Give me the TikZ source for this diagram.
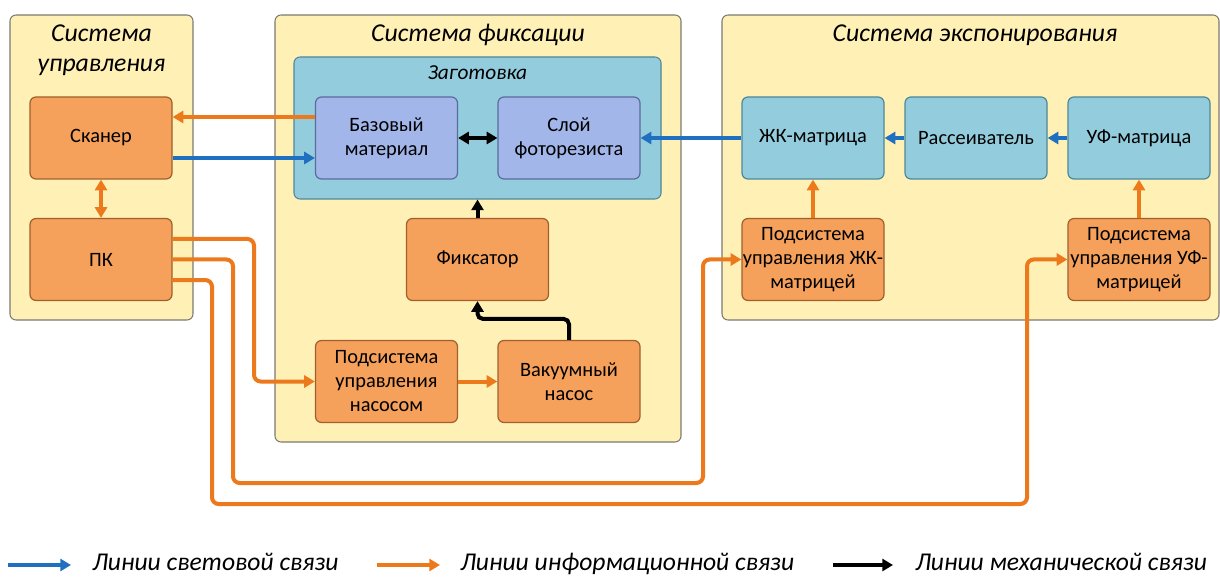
\documentclass[tikz,border=0pt]{standalone}
\usepackage{fontspec}
\setmainfont{Carlito}
\usetikzlibrary{arrows.meta,calc}
\definecolor{panelfill}{HTML}{FFF0B5}
\definecolor{panelline}{HTML}{7A7A70}
\definecolor{orfill}{HTML}{F5A05B}
\definecolor{orline}{HTML}{A0602E}
\definecolor{lavfill}{HTML}{A2B6EA}
\definecolor{lavline}{HTML}{5B6C9C}
\definecolor{bluefill}{HTML}{93CDDD}
\definecolor{blueline}{HTML}{4E8898}
\definecolor{infoc}{HTML}{EC7A1C}
\definecolor{lightc}{HTML}{1F70C0}
\tikzset{
  panel/.style={draw=panelline, fill=panelfill, rounded corners=4.5pt, line width=0.8pt, inner sep=0pt},
  boxbase/.style={rounded corners=4.5pt, line width=0.9pt, minimum width=106.5pt, minimum height=61.5pt,
     align=center, inner sep=0pt, font=\fontsize{15.3}{18}\selectfont},
  orbox/.style={boxbase, draw=orline, fill=orfill},
  lavbox/.style={boxbase, draw=lavline, fill=lavfill},
  bluebox/.style={boxbase, draw=blueline, fill=bluefill},
  ptitle/.style={font=\fontsize{19.3}{22.5}\selectfont\itshape, align=center},
  info/.style={draw=infoc, line width=3pt, -{Triangle[length=8pt,width=9pt]}},
  light/.style={draw=lightc, line width=3pt, -{Triangle[length=8pt,width=9pt]}},
  mech/.style={draw=black, line width=3pt, -{Triangle[length=8pt,width=9pt]}},
  legtext/.style={font=\fontsize{19.2}{22}\selectfont\itshape, anchor=base west, inner sep=0pt}
}
\begin{document}
\begin{tikzpicture}[x=0.75pt,y=-0.75pt]
\useasboundingbox (0,0) rectangle (1220,577);
% panels
\node[panel, minimum width=137.25pt, minimum height=228.75pt] (pL) at (101.5,167.5) {};
\node[panel, minimum width=304.5pt, minimum height=320.25pt] (pM) at (478,228.5) {};
\node[panel, minimum width=372.75pt, minimum height=228.75pt] (pR) at (970.5,167.5) {};
\node[panel, draw=blueline, fill=bluefill, minimum width=275.25pt, minimum height=106.5pt] (zag) at (477.5,128) {};
% titles
\node[ptitle] (tL) at (101.5,50) {Система\\управления};
\node[ptitle] (tM) at (478,35) {Система фиксации};
\node[ptitle] (tR) at (975,35) {Система экспонирования};
\node[font=\fontsize{16}{18}\selectfont\itshape] (tZ) at (477.5,73) {Заготовка};
% boxes
\node[orbox] (scan) at (101,138) {Сканер};
\node[orbox] (pc) at (101,259.5) {ПК};
\node[lavbox] (base) at (386.5,138) {Базовый\\материал};
\node[lavbox] (resist) at (569,138) {Слой\\фоторезиста};
\node[orbox] (fix) at (477.5,259.5) {Фиксатор};
\node[orbox] (pumpctl) at (386.5,381.5) {Подсистема\\управления\\насосом};
\node[orbox] (pump) at (569,381.5) {Вакуумный\\насос};
\node[bluebox] (lcd) at (813,138) {ЖК-матрица};
\node[bluebox] (diff) at (976,138) {Рассеиватель};
\node[bluebox] (uv) at (1139,138) {УФ-матрица};
\node[orbox] (lcdctl) at (813,259.5) {Подсистема\\управления ЖК-\\матрицей};
\node[orbox] (uvctl) at (1139,259.5) {Подсистема\\управления УФ-\\матрицей};
% bend points
\coordinate (b1) at (254,0);
\coordinate (c2a) at (233,483);
\coordinate (c2b) at (703,483);
\coordinate (c3a) at (212,504);
\coordinate (c3b) at (1027,504);
% connectors
\draw[info] ([yshift=15.75pt]base.west) -- ([yshift=15.75pt]base.west -| scan.east);
\draw[light] ([yshift=-15pt]scan.east) -- ([yshift=-15pt]scan.east -| base.west);
\draw[info, {Triangle[length=8pt,width=9pt]}-{Triangle[length=8pt,width=9pt]}] (scan.south) -- (pc.north);
\draw[mech, {Triangle[length=8pt,width=9pt]}-{Triangle[length=8pt,width=9pt]}] (base.east) -- (resist.west);
\draw[mech] (fix.north) -- (zag.south);
\draw[mech, rounded corners=4pt] (pump.north) -- ($(pump.north)+(0,-21)$) -| (fix.south);
\draw[info] (pumpctl.east) -- (pump.west);
\draw[light] (uv.west) -- (diff.east);
\draw[light] (diff.west) -- (lcd.east);
\draw[light] (lcd.west) -- (resist.east);
\draw[info] (lcdctl.north) -- (lcd.south);
\draw[info] (uvctl.north) -- (uv.south);
\draw[info, rounded corners=5pt] ([yshift=15.4pt]pc.east) -| (b1 |- pumpctl.west) -- (pumpctl.west);
\draw[info, rounded corners=5pt] (pc.east) -| (c2a) -- (c2b) |- (lcdctl.west);
\draw[info, rounded corners=5pt] ([yshift=-15.4pt]pc.east) -| (c3a) -- (c3b) |- (uvctl.west);
% legend
\node[legtext] (leg1) at (92,570) {Линии световой связи};
\node[legtext] (leg2) at (460,570) {Линии информационной связи};
\node[legtext] (leg3) at (915,570) {Линии механической связи};
\coordinate (l1) at (8,565);
\coordinate (l2) at (377,565);
\coordinate (l3) at (833,565);
\draw[light] (l1) -- ($(l1 -| leg1.west)+(-21,0)$);
\draw[info] (l2) -- ($(l2 -| leg2.west)+(-20,0)$);
\draw[mech] (l3) -- ($(l3 -| leg3.west)+(-22,0)$);
\end{tikzpicture}
\end{document}
